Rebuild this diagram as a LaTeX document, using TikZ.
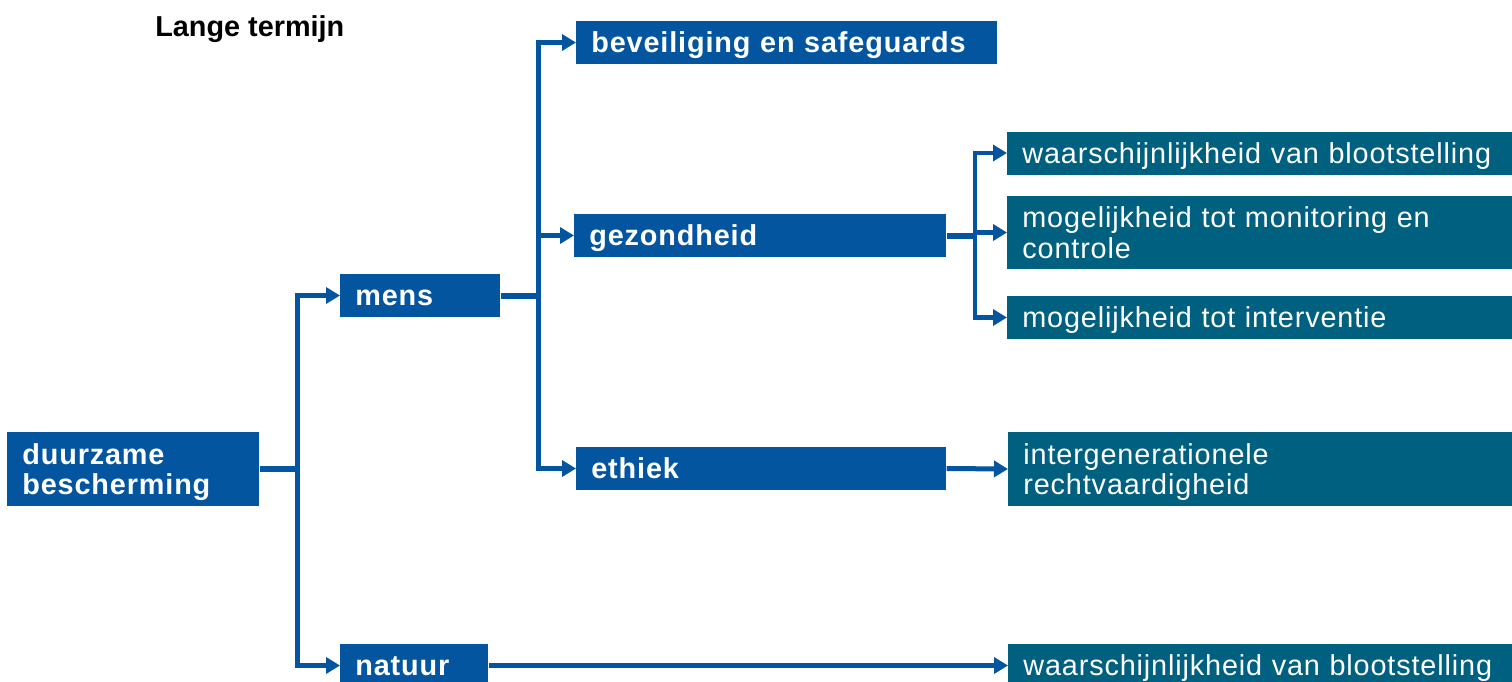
\documentclass[tikz,border=0pt]{standalone}
\usepackage{fontspec}
\setmainfont{Liberation Sans}[LetterSpace=3]
\newfontfamily\titlefont{Liberation Sans}
\usetikzlibrary{arrows.meta,positioning,calc}
\definecolor{dblue}{RGB}{4,85,160}
\definecolor{dteal}{RGB}{0,96,128}

\begin{document}
\begin{tikzpicture}[x=0.02cm,y=-0.02cm,
        blk/.style={fill=dblue, text=white, font=\fontsize{16.4pt}{17.6pt}\selectfont\bfseries, inner xsep=0.3cm, inner ysep=0pt, align=left, minimum height=0.86cm, anchor=west, text height=15.4pt, text depth=3.5pt},
        tbox/.style={blk, fill=dteal, font=\fontsize{16.4pt}{17.6pt}\selectfont},
        twoline/.style={minimum height=1.48cm, text depth=21.1pt},
        lnk/.style={draw=dblue, line width=0.1cm, -{Triangle[length=0.28cm,width=0.32cm]}},
        bar/.style={draw=dblue, line width=0.12cm}]
        \useasboundingbox (0,0) rectangle (1512,681);
        \node[anchor=base west, inner sep=0pt, font=\fontsize{16.4pt}{17.6pt}\titlefont\bfseries] (title) at (155,36) {Lange termijn};
        \node[blk, twoline, text width=4.44cm] (duur) at (7,469) {duurzame\\bescherming};
        \node[blk, text width=2.6cm] (mens) at (340,295.5) {mens};
        \node[blk, text width=2.36cm] (natuur) at (340,665.5) {natuur};
        \node[blk, text width=7.82cm] (bev) at (576,42.5) {beveiliging en safeguards};
        \node[blk, text width=6.84cm] (gez) at (574,235.5) {gezondheid};
        \node[blk, text width=6.8cm] (eth) at (576,468.5) {ethiek};
        \node[tbox, text width=9.6cm] (kans1) at (1007,153) {waarschijnlijkheid van blootstelling};
        \node[tbox, twoline, text width=9.6cm, minimum height=1.46cm] (moni) at (1007,232.5) {mogelijkheid tot monitoring en\\controle};
        \node[tbox, text width=9.6cm] (inter) at (1007,317.5) {mogelijkheid tot interventie};
        \node[tbox, twoline, text width=9.6cm] (recht) at (1008,469) {intergenerationele\\rechtvaardigheid};
        \node[tbox, text width=9.6cm] (kans2) at (1008,665.5) {waarschijnlijkheid van blootstelling};
        \coordinate (j1) at (297,469);
        \coordinate (j2) at (538,295.5);
        \coordinate (j3) at (975,235.5);
        \draw[bar] (duur.east) -- (j1);
        \draw[lnk] (j1) |- (mens.west);
        \draw[lnk] (j1) |- (natuur.west);
        \draw[bar] (mens.east) -- (j2);
        \draw[lnk] (j2) |- (bev.west);
        \draw[lnk] (j2) |- (gez.west);
        \draw[lnk] (j2) |- (eth.west);
        \draw[bar] (gez.east) -- (j3);
        \draw[lnk, line width=0.09cm] (j3) |- (kans1.west);
        \draw[lnk, line width=0.09cm] (j3) |- (moni.west);
        \draw[lnk, line width=0.09cm] (j3) |- (inter.west);
        \draw[lnk] (eth.east) -- (recht.west);
        \draw[lnk] (natuur.east) -- (kans2.west);
\end{tikzpicture}
\end{document}
